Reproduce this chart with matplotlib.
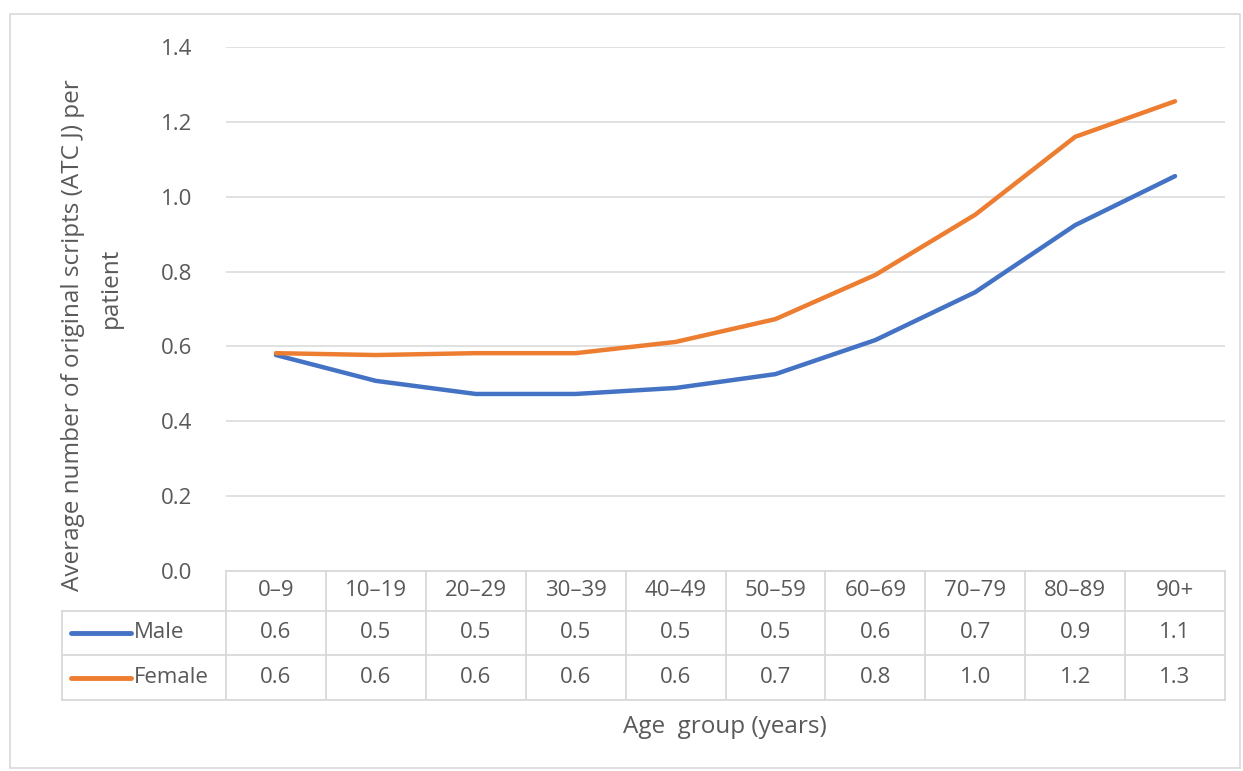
import numpy as np
import matplotlib.pyplot as plt
from matplotlib.patches import Rectangle
from matplotlib.lines import Line2D

plt.rcParams['font.family'] = ['Open Sans', 'DejaVu Sans']

# data
age_groups = ['0\u20139', '10\u201319', '20\u201329', '30\u201339', '40\u201349',
              '50\u201359', '60\u201369', '70\u201379', '80\u201389', '90+']
male = [0.577, 0.508, 0.473, 0.473, 0.489, 0.526, 0.617, 0.745, 0.924, 1.055]
female = [0.582, 0.577, 0.582, 0.582, 0.612, 0.673, 0.791, 0.952, 1.16, 1.255]
series = [('Male', male, '#4472C4'), ('Female', female, '#ED7D31')]

W, H = 1243, 771
fig = plt.figure(figsize=(W / 100, H / 100), dpi=100)

def fx(px):
    return px / W

def fy(py):
    return 1 - py / H

fs = 16
tc = '#595959'
gc = '#d9d9d9'

# outer chart border
fig.patches.append(Rectangle((fx(10), fy(768)), fx(1230), fy(14) - fy(768), transform=fig.transFigure,
                             fill=False, edgecolor=gc, linewidth=1.2))

left, right, top, bottom = 226, 1225, 47, 571
ax = fig.add_axes([fx(left), fy(bottom), fx(right - left), fy(top) - fy(bottom)])
x = np.arange(len(age_groups))
for name, vals, col in series:
    ax.plot(x, vals, color=col, linewidth=3.2, solid_capstyle='round', zorder=3)
ax.set_xlim(-0.5, len(age_groups) - 0.5)
ax.set_ylim(0, 1.4)
ax.set_yticks(np.arange(0, 1.41, 0.2))
ax.set_yticklabels([f'{v:.1f}' for v in np.arange(0, 1.41, 0.2)])
ax.yaxis.grid(True, color=gc, linewidth=1.1)
ax.set_axisbelow(True)
for s in ax.spines.values():
    s.set_visible(False)
ax.tick_params(axis='y', length=0, pad=24, labelsize=fs, labelcolor=tc)
ax.tick_params(axis='x', length=0, labelbottom=False)

# data table below the plot
row_y = [571, 611, 655, 700]
col_w = (right - left) / len(age_groups)
tab_left = 62
fig.add_artist(Line2D([fx(left), fx(right)], [fy(row_y[0])] * 2, color=gc, lw=1.3))
for ry in row_y[1:]:
    fig.add_artist(Line2D([fx(tab_left), fx(right)], [fy(ry)] * 2, color=gc, lw=1.3))
for i in range(len(age_groups) + 1):
    cx = left + i * col_w
    fig.add_artist(Line2D([fx(cx)] * 2, [fy(row_y[0]), fy(row_y[-1])], color=gc, lw=1.3))
fig.add_artist(Line2D([fx(tab_left)] * 2, [fy(row_y[1]), fy(row_y[-1])], color=gc, lw=1.3))

for i, g in enumerate(age_groups):
    cx = left + (i + 0.5) * col_w
    fig.text(fx(cx), fy((row_y[0] + row_y[1]) / 2), g, ha='center', va='center',
             fontsize=fs, color=tc)
for r, (name, vals, col) in enumerate(series):
    cy = (row_y[r + 1] + row_y[r + 2]) / 2
    fig.add_artist(Line2D([fx(71), fx(131)], [fy(cy)] * 2, color=col, lw=3.5,
                          solid_capstyle='round'))
    fig.text(fx(134), fy(cy), name, ha='left', va='center', fontsize=fs, color=tc)
    for i, v in enumerate(vals):
        cx = left + (i + 0.5) * col_w
        fig.text(fx(cx), fy(cy), f'{v:.1f}', ha='center', va='center',
                 fontsize=fs, color=tc)

fig.text(fx(73), fy(335), 'Average number of original scripts (ATC J) per',
         rotation=90, ha='center', va='center', fontsize=17.5, color=tc)
fig.text(fx(111), fy(288), 'patient',
         rotation=90, ha='center', va='center', fontsize=17.5, color=tc)
fig.text(fx(725), fy(727), 'Age  group (years)', ha='center', va='center',
         fontsize=17.5, color=tc)

fig.savefig('out.png', dpi=100, facecolor='white')
